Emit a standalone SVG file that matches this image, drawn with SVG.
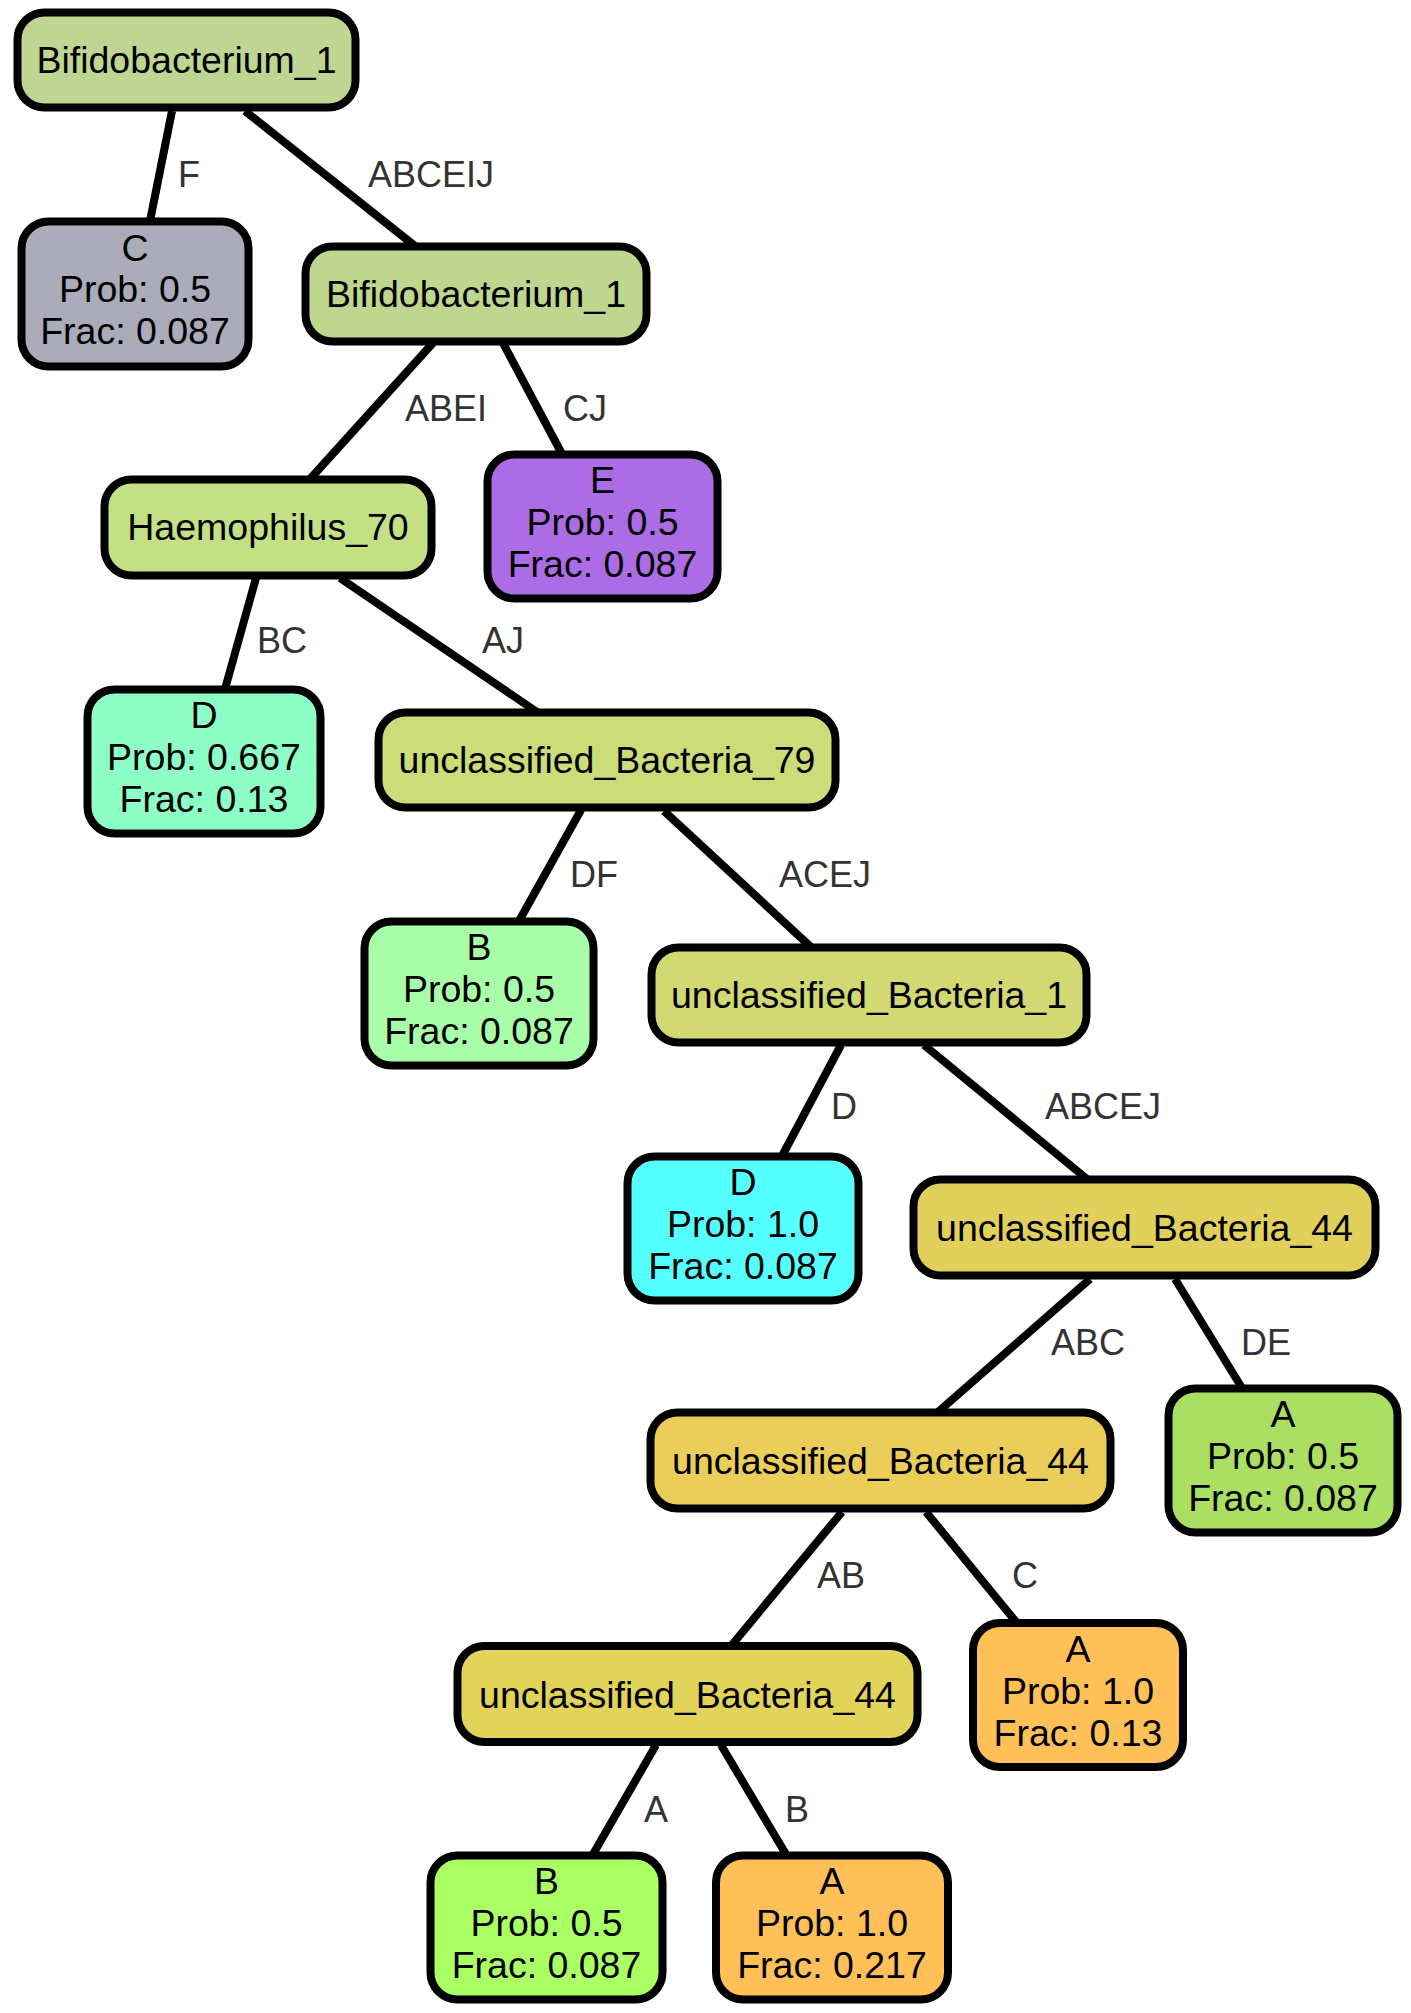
<svg xmlns="http://www.w3.org/2000/svg" width="1411" height="2013" viewBox="0 0 1411 2013">
<style>
.n rect{stroke:#000;stroke-width:8}
.n text{font-family:"Liberation Sans",Arial,sans-serif;font-size:37.5px;fill:#000;text-anchor:middle}
#edges line{stroke:#000;stroke-width:8}
#edges text{font-family:"Liberation Sans",Arial,sans-serif;font-size:36px;fill:#333}
</style>
<rect width="1411" height="2013" fill="#fff"/>
<g id="edges">
<line x1="172" y1="111" x2="150" y2="221"/>
<line x1="245" y1="111" x2="415" y2="246"/>
<line x1="433" y1="343" x2="310" y2="479"/>
<line x1="503" y1="343" x2="562" y2="454"/>
<line x1="256" y1="578" x2="225" y2="689"/>
<line x1="340" y1="578" x2="537" y2="712"/>
<line x1="581" y1="810" x2="519" y2="921"/>
<line x1="664" y1="811" x2="812" y2="948"/>
<line x1="841" y1="1045" x2="782" y2="1156"/>
<line x1="924" y1="1045" x2="1087" y2="1179"/>
<line x1="1090" y1="1279" x2="938" y2="1412"/>
<line x1="1175" y1="1279" x2="1242" y2="1388"/>
<line x1="842" y1="1512" x2="731" y2="1646"/>
<line x1="926" y1="1512" x2="1017" y2="1623"/>
<line x1="656" y1="1745" x2="592" y2="1856"/>
<line x1="721" y1="1745" x2="787" y2="1856"/>
<text x="178" y="187">F</text>
<text x="368" y="187">ABCEIJ</text>
<text x="405" y="421">ABEI</text>
<text x="563" y="421">CJ</text>
<text x="257" y="653">BC</text>
<text x="482" y="653">AJ</text>
<text x="570" y="887">DF</text>
<text x="779" y="887">ACEJ</text>
<text x="831" y="1119">D</text>
<text x="1045" y="1119">ABCEJ</text>
<text x="1051" y="1355">ABC</text>
<text x="1241" y="1355">DE</text>
<text x="817" y="1588">AB</text>
<text x="1012" y="1588">C</text>
<text x="644" y="1822">A</text>
<text x="785" y="1822">B</text>
</g>
<g id="n0" class="n"><rect x="17.5" y="12.5" width="338" height="95" rx="27" fill="#BFD592"/><text x="186.5" y="73">Bifidobacterium_1</text></g>
<g id="n1" class="n"><rect x="21.5" y="221.5" width="227" height="145" rx="27" fill="#ABABBA"/><text x="135" y="261">C</text><text x="135" y="302">Prob: 0.5</text><text x="135" y="344">Frac: 0.087</text></g>
<g id="n2" class="n"><rect x="305.5" y="246.5" width="341" height="95" rx="27" fill="#BFD68E"/><text x="476" y="307">Bifidobacterium_1</text></g>
<g id="n3" class="n"><rect x="104.5" y="479.5" width="327" height="96" rx="27" fill="#C4E085"/><text x="268" y="540">Haemophilus_70</text></g>
<g id="n4" class="n"><rect x="487.5" y="454.5" width="230" height="144" rx="27" fill="#AB6CE6"/><text x="602.5" y="493">E</text><text x="602.5" y="535">Prob: 0.5</text><text x="602.5" y="577">Frac: 0.087</text></g>
<g id="n5" class="n"><rect x="87.5" y="689.5" width="233" height="144" rx="27" fill="#8DFEC6"/><text x="204" y="728">D</text><text x="204" y="770">Prob: 0.667</text><text x="204" y="812">Frac: 0.13</text></g>
<g id="n6" class="n"><rect x="378.5" y="712.5" width="457" height="95" rx="27" fill="#CCDC78"/><text x="607" y="773">unclassified_Bacteria_79</text></g>
<g id="n7" class="n"><rect x="364.5" y="921.5" width="229" height="144" rx="27" fill="#A8FEA8"/><text x="479" y="960">B</text><text x="479" y="1002">Prob: 0.5</text><text x="479" y="1044">Frac: 0.087</text></g>
<g id="n8" class="n"><rect x="651.5" y="947.5" width="435" height="95" rx="27" fill="#D2D872"/><text x="869" y="1008">unclassified_Bacteria_1</text></g>
<g id="n9" class="n"><rect x="627.5" y="1156.5" width="231" height="144" rx="27" fill="#55FFFF"/><text x="743" y="1195">D</text><text x="743" y="1237">Prob: 1.0</text><text x="743" y="1279">Frac: 0.087</text></g>
<g id="n10" class="n"><rect x="913.5" y="1179.5" width="462" height="96" rx="27" fill="#E2D05C"/><text x="1144.5" y="1241">unclassified_Bacteria_44</text></g>
<g id="n11" class="n"><rect x="650.5" y="1412.5" width="460" height="96" rx="27" fill="#EBCD5A"/><text x="880.5" y="1474">unclassified_Bacteria_44</text></g>
<g id="n12" class="n"><rect x="1168.5" y="1388.5" width="229" height="144" rx="27" fill="#AADF64"/><text x="1283" y="1427">A</text><text x="1283" y="1469">Prob: 0.5</text><text x="1283" y="1511">Frac: 0.087</text></g>
<g id="n13" class="n"><rect x="457.5" y="1646" width="460" height="96" rx="27" fill="#E2D35A"/><text x="687.5" y="1708">unclassified_Bacteria_44</text></g>
<g id="n14" class="n"><rect x="973" y="1623" width="210" height="144" rx="27" fill="#FFC057"/><text x="1078" y="1662">A</text><text x="1078" y="1704">Prob: 1.0</text><text x="1078" y="1746">Frac: 0.13</text></g>
<g id="n15" class="n"><rect x="430.5" y="1855.5" width="232" height="144" rx="27" fill="#A9FF63"/><text x="546.5" y="1894">B</text><text x="546.5" y="1936">Prob: 0.5</text><text x="546.5" y="1978">Frac: 0.087</text></g>
<g id="n16" class="n"><rect x="716" y="1855.5" width="232" height="144" rx="27" fill="#FFC057"/><text x="832" y="1894">A</text><text x="832" y="1936">Prob: 1.0</text><text x="832" y="1978">Frac: 0.217</text></g>
</svg>
